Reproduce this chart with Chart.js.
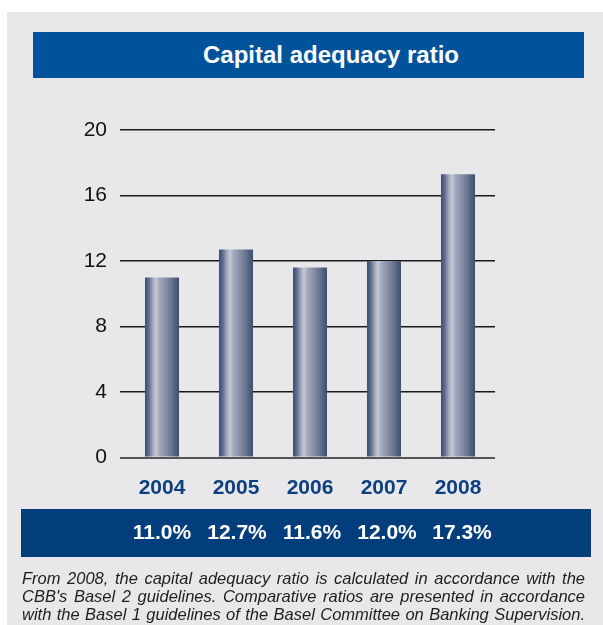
<!DOCTYPE html>
<html>
<head>
<meta charset="utf-8">
<script src="https://cdn.jsdelivr.net/npm/chart.js@4/dist/chart.umd.min.js"></script>
<style>
  html, body { margin: 0; padding: 0; background: #ffffff; width: 603px; height: 625px; overflow: hidden; }
  #panel { position: absolute; left: 7px; top: 12px; width: 596px; height: 613px; background: #e8e8eb; }
  #chart { position: absolute; left: 0; top: 0; }
  #title { position: absolute; left: 33px; top: 32px; width: 551px; height: 46px; background: #00529b;
           color: #ffffff; font: bold 24px "Liberation Sans", Arial, sans-serif; line-height: 46px;
           text-align: center; box-sizing: border-box; padding-left: 45px; }
  #note { position: absolute; left: 22px; top: 569px; width: 563px; color: #1e1e1e;
          font: italic 16.5px "Liberation Sans", Arial, sans-serif; line-height: 18px; }
  #note div { text-align: justify; text-align-last: justify; white-space: nowrap; }
</style>
</head>
<body>
<div id="panel"></div>
<canvas id="chart" width="603" height="625"></canvas>
<div id="title">Capital adequacy ratio</div>
<div id="note">
  <div>From 2008, the capital adequacy ratio is calculated in accordance with the</div>
  <div>CBB's Basel 2 guidelines. Comparative ratios are presented in accordance</div>
  <div>with the Basel 1 guidelines of the Basel Committee on Banking Supervision.</div>
</div>
<script>
const years = ['2004', '2005', '2006', '2007', '2008'];
const ratios = [11.0, 12.7, 11.6, 12.0, 17.3];
const yTicks = [0, 4, 8, 12, 16, 20];

const BAR_FRACTION = 0.46;

function barGradient(ctx) {
  const chart = ctx.chart;
  const xs = chart.scales && chart.scales.x;
  if (!chart.chartArea || !xs || ctx.dataIndex === undefined) return '#6d7892';
  const c = xs.getPixelForValue(ctx.dataIndex);
  const hw = (xs.width / years.length) * BAR_FRACTION / 2;
  const g = chart.ctx.createLinearGradient(c - hw, 0, c + hw, 0);
  g.addColorStop(0.00, '#3b4f73');
  g.addColorStop(0.10, '#5a6887');
  g.addColorStop(0.22, '#9ba2b8');
  g.addColorStop(0.32, '#c6c9d6');
  g.addColorStop(0.42, '#a4aabd');
  g.addColorStop(0.58, '#8b93a8');
  g.addColorStop(0.78, '#6a7590');
  g.addColorStop(0.92, '#4b5b7c');
  g.addColorStop(1.00, '#3d5175');
  return g;
}

const footerPlugin = {
  id: 'footerValues',
  afterDraw(chart) {
    const c = chart.ctx;
    const xs = chart.scales.x;
    c.save();
    c.fillStyle = '#023e7c';
    c.fillRect(21, 509, 570, 48);
    c.fillStyle = '#ffffff';
    c.font = 'bold 21px "Liberation Sans", Arial, sans-serif';
    c.textAlign = 'center';
    c.textBaseline = 'middle';
    ratios.forEach((v, i) => {
      c.fillText(v.toFixed(1) + '%', xs.getPixelForValue(i) + i, 533);
    });
    c.restore();
  }
};

new Chart(document.getElementById('chart'), {
  type: 'bar',
  data: {
    labels: years,
    datasets: [{
      data: ratios,
      backgroundColor: barGradient,
      borderWidth: 0,
      barPercentage: 0.92,
      categoryPercentage: 0.5
    }]
  },
  options: {
    responsive: false,
    animation: false,
    events: [],
    layout: { padding: { left: 0, right: 108, top: 130, bottom: 0 } },
    plugins: { legend: { display: false }, tooltip: { enabled: false }, title: { display: false } },
    scales: {
      x: {
        grid: { display: false },
        border: { display: false },
        ticks: {
          color: '#0e3f7e',
          padding: 10,
          font: { family: '"Liberation Sans", Arial, sans-serif', size: 21, weight: 'bold' }
        },
        afterFit(scale) { scale.height = 625 - 457.5; }
      },
      y: {
        min: 0,
        max: 20,
        afterBuildTicks(scale) { scale.ticks = yTicks.map(v => ({ value: v })); },
        border: { display: false },
        grid: {
          drawTicks: true,
          tickLength: 5,
          color: (ctx) => (ctx.tick && ctx.tick.value === 0) ? '#555555' : '#1a1a1a',
          lineWidth: (ctx) => (ctx.tick && ctx.tick.value === 0) ? 2 : 1.5
        },
        ticks: {
          color: '#111111',
          padding: 13,
          font: { family: '"Liberation Sans", Arial, sans-serif', size: 21 }
        },
        afterFit(scale) { scale.width = 125; }
      }
    }
  },
  plugins: [footerPlugin]
});
</script>
</body>
</html>
